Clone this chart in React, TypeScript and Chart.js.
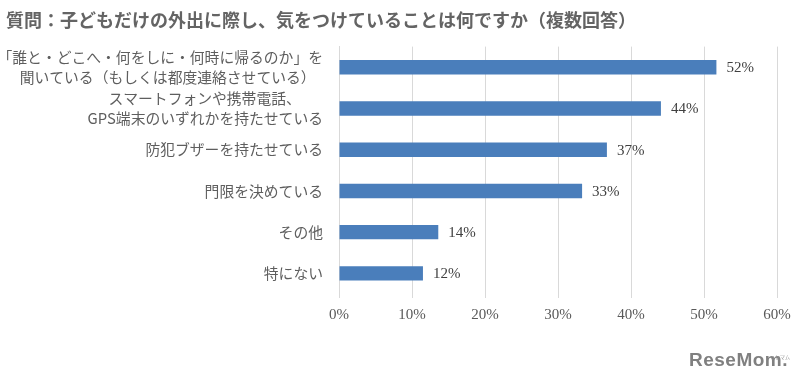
import React, { useEffect, useRef } from "react";
import { Chart, registerables } from "chart.js";

Chart.register(...registerables);

const TITLE = "質問：子どもだけの外出に際し、気をつけていることは何ですか（複数回答）";
const categories: (string | string[])[] = [
  ["「誰と・どこへ・何をしに・何時に帰るのか」を", "聞いている（もしくは都度連絡させている）　"],
  ["スマートフォンや携帯電話、　　", "GPS端末のいずれかを持たせている"],
  "防犯ブザーを持たせている",
  "門限を決めている",
  "その他",
  "特にない",
];
const values = [51.7, 44.1, 36.7, 33.3, 13.6, 11.5];
const xTicks = [0, 10, 20, 30, 40, 50, 60];

const CJK = "'Noto Sans CJK JP', 'Noto Sans', sans-serif";
const SERIF = "'Liberation Serif', 'DejaVu Serif', serif";

const valueLabels = {
  id: "valueLabels",
  afterDatasetsDraw(chart: any) {
    const ctx = chart.ctx;
    const meta = chart.getDatasetMeta(0);
    ctx.save();
    ctx.font = `15px ${SERIF}`;
    ctx.fillStyle = "#404040";
    ctx.textAlign = "left";
    ctx.textBaseline = "middle";
    meta.data.forEach((bar: any, i: number) => {
      ctx.fillText(Math.round(values[i]) + "%", bar.x + 10, bar.y + 1);
    });
    ctx.restore();
  },
};

export default function App() {
  const ref = useRef<HTMLCanvasElement>(null);
  useEffect(() => {
    if (!ref.current) return;
    const chart = new Chart(ref.current, {
      type: "bar",
      data: {
        labels: categories,
        datasets: [
          {
            data: values,
            backgroundColor: "#4a7ebb",
            barPercentage: 0.7,
            categoryPercentage: 0.5,
          },
        ],
      },
      options: {
        indexAxis: "y",
        responsive: false,
        animation: false,
        layout: { padding: { left: 6, right: 25, top: 0, bottom: 0 } },
        plugins: {
          legend: { display: false },
          tooltip: { enabled: false },
          title: {
            display: true,
            text: TITLE,
            align: "start",
            color: "#646464",
            font: { family: CJK, size: 18, weight: "bold", lineHeight: 1.2 },
            padding: { top: 9, bottom: 16 },
          },
        },
        scales: {
          x: {
            min: 0,
            max: 60,
            afterBuildTicks: (s: any) => {
              s.ticks = xTicks.map((v) => ({ value: v }));
            },
            afterFit: (s: any) => {
              s.height = 97;
            },
            ticks: {
              callback: (v: any) => v + "%",
              color: "#595959",
              font: { family: SERIF, size: 15 },
              padding: 8,
            },
            grid: { color: "#d9d9d9", drawTicks: true, tickLength: 4 },
            border: { display: false },
          },
          y: {
            afterFit: (s: any) => {
              s.width = 333;
            },
            ticks: {
              autoSkip: false,
              color: "#5e5e5e",
              font: { family: CJK, size: 14.8, lineHeight: 1.33 },
              padding: 16,
            },
            grid: { display: false, drawTicks: false },
            border: { display: true, color: "#d9d9d9" },
          },
        },
      },
      plugins: [valueLabels],
    } as any);
    return () => chart.destroy();
  }, []);

  return (
    <div style={{ position: "fixed", left: 0, top: 0, width: 802, height: 391, background: "#fff" }}>
      <canvas ref={ref} width={802} height={391} />
      <div
        style={{
          position: "absolute",
          left: 689,
          top: 349,
          fontFamily: "'Liberation Sans', Arial, sans-serif",
          fontWeight: 700,
          fontSize: 19,
          color: "#808080",
          letterSpacing: 0.5,
          lineHeight: "22px",
        }}
      >
        ReseMom.
      </div>
      <div
        style={{
          position: "absolute",
          left: 770,
          top: 354,
          fontFamily: CJK,
          fontSize: 5,
          color: "#909090",
          lineHeight: "6px",
        }}
      >
        リセマム
      </div>
    </div>
  );
}
